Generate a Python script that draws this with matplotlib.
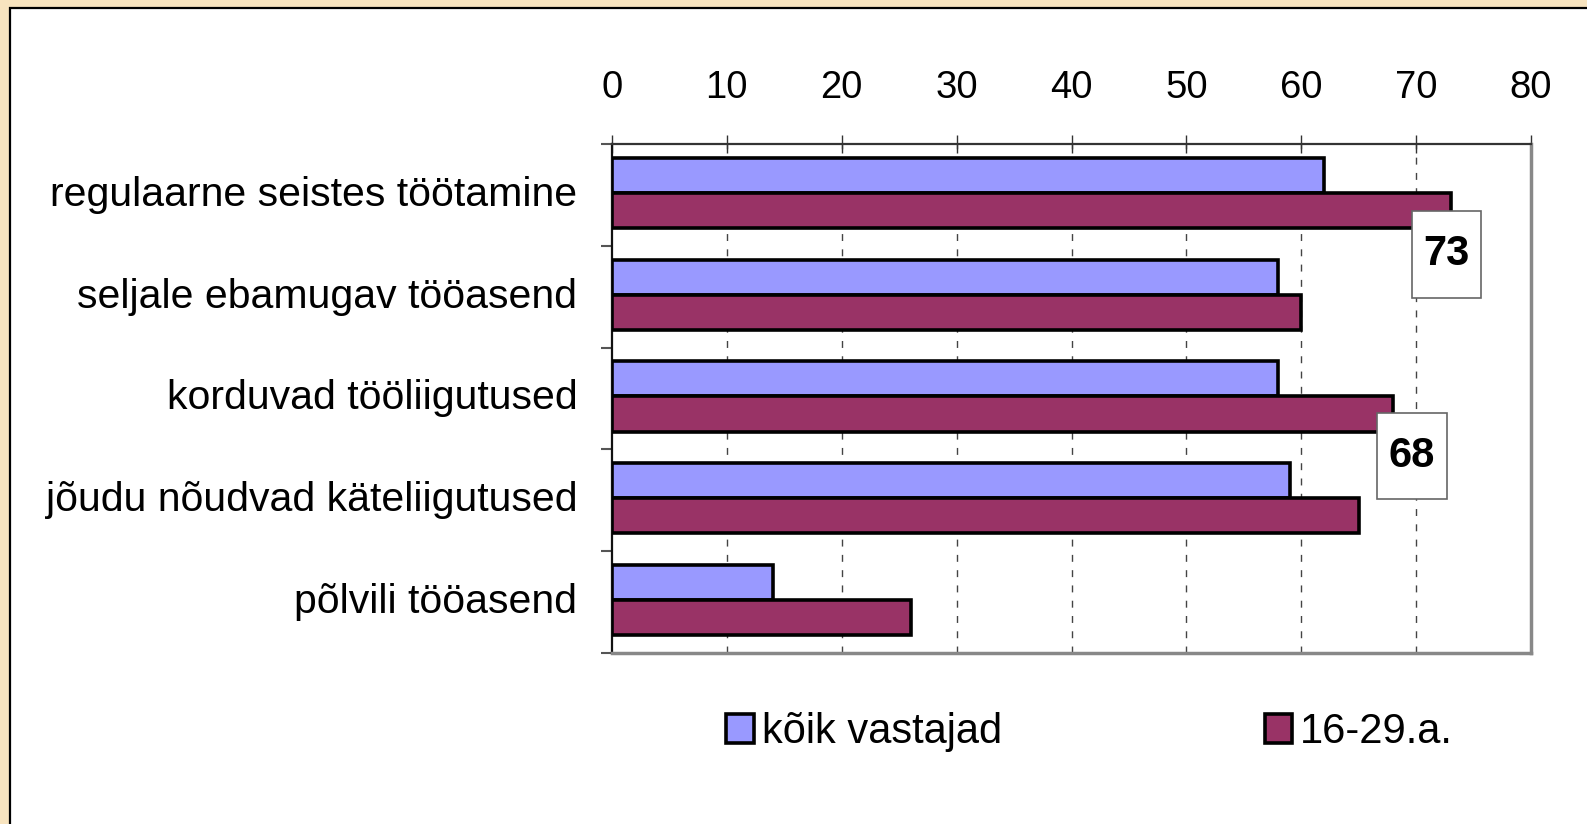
import numpy as np
import matplotlib as mpl
mpl.use('Agg')
import matplotlib.pyplot as plt
from matplotlib.patches import Rectangle
from matplotlib.path import Path

plt.rcParams['font.family'] = ['Liberation Sans', 'DejaVu Sans']

# data
categories = ["regulaarne seistes töötamine",
              "seljale ebamugav tööasend",
              "korduvad tööliigutused",
              "jõudu nõudvad käteliigutused",
              "põlvili tööasend"]
koik = [62, 58, 58, 59, 14]
noored = [73, 60, 68, 65, 26]
series_names = ["kõik vastajad", "16-29.a."]
labelled = [0, 2]   # bars of the second series that carry a value box


def tall_box(x0, y0, width, height, mutation_size):
    # box around the value labels: more padding above/below than at the sides
    px = 0.28 * mutation_size
    py = 0.56 * mutation_size
    verts = [(x0 - px, y0 - py), (x0 + width + px, y0 - py),
             (x0 + width + px, y0 + height + py), (x0 - px, y0 + height + py),
             (x0 - px, y0 - py)]
    return Path(verts, closed=True)


fig = plt.figure(figsize=(15.87, 8.24), dpi=100)
fig.patch.set_facecolor('#F8E4BF')
# white panel with a black edge on the left and top
fig.patches.append(Rectangle((9.5 / 1587, -0.05), 1.2, 1.05 - 8 / 824,
                             transform=fig.transFigure, fc='white',
                             ec='black', lw=1.6, zorder=-5))

ax = fig.add_axes([612 / 1587, 1 - 653 / 824, (1531 - 612) / 1587, (653 - 144) / 824])
ax.set_facecolor('white')

y = np.arange(len(categories)) - 0.02
h = 0.345
b1 = ax.barh(y - h / 2, koik, height=h, color='#9999FF', edgecolor='black',
             linewidth=2.6, label=series_names[0], zorder=3)
b2 = ax.barh(y + h / 2, noored, height=h, color='#993366', edgecolor='black',
             linewidth=2.6, label=series_names[1], zorder=3)

ax.set_xlim(0, 80)
ax.set_ylim(len(categories) - 0.5, -0.5)
ax.set_xticks(np.arange(0, 81, 10))
ax.xaxis.tick_top()
ax.tick_params(axis='x', which='major', direction='inout', length=13, width=1,
               color='#333333', labelsize=27.5, pad=21)

ax.set_yticks(np.arange(len(categories)) - 0.04)
ax.set_yticklabels(categories)
ax.set_yticks(np.arange(len(categories) + 1) - 0.5, minor=True)
ax.tick_params(axis='y', which='major', length=0, labelsize=29.5, pad=25)
ax.tick_params(axis='y', which='minor', direction='out', length=8, width=1.5,
               color='#555555')

for x in range(10, 80, 10):
    ax.axvline(x, color='#444444', lw=1.0, ls=(0, (5, 6)), zorder=1)

ax.spines['left'].set_color('#111111')
ax.spines['left'].set_linewidth(1.6)
ax.spines['top'].set_color('#333333')
ax.spines['top'].set_linewidth(1.6)
ax.spines['right'].set_color('#888888')
ax.spines['right'].set_linewidth(2.5)
ax.spines['bottom'].set_color('#888888')
ax.spines['bottom'].set_linewidth(2.5)

label_offsets = [(-4, -44), (19, -42)]
for i, off in zip(labelled, label_offsets):
    ax.annotate(str(noored[i]), xy=(noored[i], y[i] + h / 2), xytext=off,
                textcoords='offset pixels', ha='center', va='center',
                fontsize=30, fontweight='bold', zorder=5,
                bbox=dict(boxstyle=tall_box, fc='white', ec='#666666', lw=1.2))

fig.legend(handles=[b1, b2], labels=series_names, loc='center',
           bbox_to_anchor=(0.6866, 1 - 732 / 824), ncol=2, frameon=False,
           fontsize=30, handlelength=0.66, handleheight=0.7,
           handletextpad=0.2, columnspacing=6.3, borderpad=0)

plt.savefig("out.png", dpi=100, facecolor=fig.get_facecolor())
